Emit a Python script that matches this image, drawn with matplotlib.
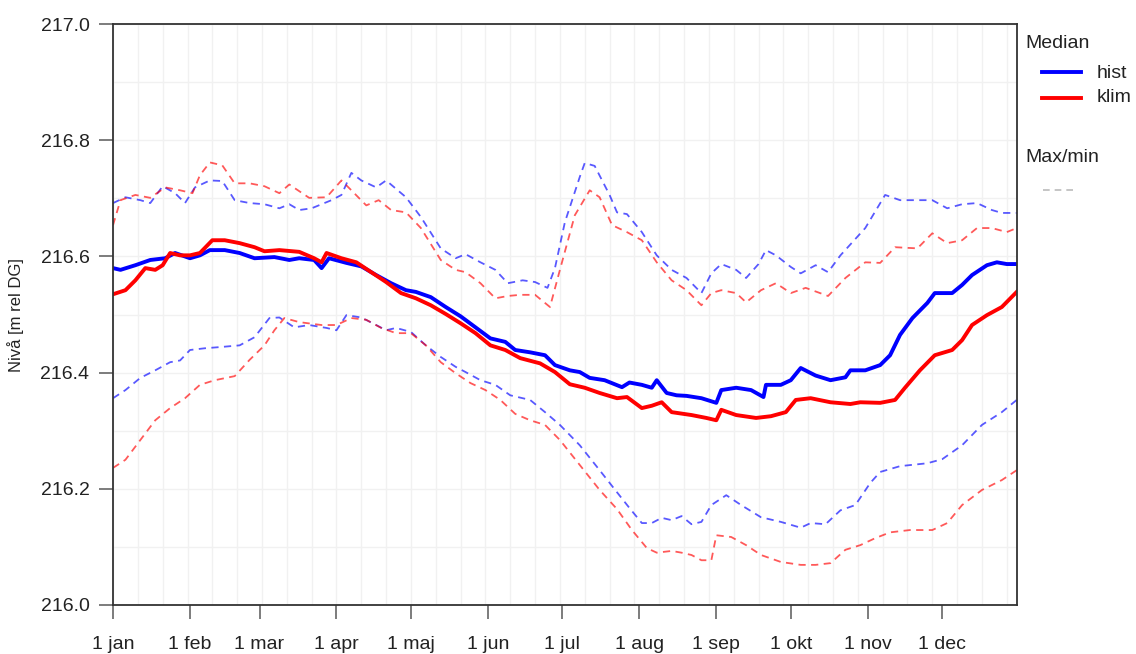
import numpy as np
import matplotlib.pyplot as plt
from matplotlib.lines import Line2D

plt.rcParams['font.family'] = ['Liberation Sans', 'DejaVu Sans']

# day of year (0 = 1 jan) and level [m rel DG]
hist_med_day = [0, 3, 9, 15, 21, 25, 31, 35, 39, 45, 51, 57, 65, 71, 75, 81, 84, 87, 94, 100,
                106, 112, 118, 122, 128, 134, 140, 146, 152, 158, 162, 168, 174, 178, 184, 188,
                192, 198, 205, 208, 213, 217, 219, 223, 227, 231, 237, 243, 245, 251, 257, 262,
                263, 269, 273, 277, 283, 289, 295, 297, 303, 309, 313, 317, 322, 328, 331, 338,
                342, 346, 352, 356, 360, 364]
hist_med = [216.580, 216.577, 216.585, 216.594, 216.597, 216.606, 216.597, 216.602, 216.611,
            216.611, 216.606, 216.597, 216.599, 216.594, 216.597, 216.594, 216.580, 216.597,
            216.589, 216.583, 216.568, 216.554, 216.542, 216.539, 216.530, 216.513, 216.497,
            216.478, 216.459, 216.453, 216.439, 216.435, 216.430, 216.413, 216.404, 216.401,
            216.391, 216.387, 216.375, 216.383, 216.379, 216.374, 216.387, 216.365, 216.361,
            216.360, 216.356, 216.348, 216.370, 216.374, 216.370, 216.358, 216.379, 216.379,
            216.387, 216.408, 216.395, 216.387, 216.392, 216.404, 216.404, 216.413, 216.430,
            216.465, 216.494, 216.520, 216.537, 216.537, 216.551, 216.568, 216.585, 216.590,
            216.587, 216.587]

klim_med_day = [0, 5, 9, 13, 17, 20, 23, 27, 31, 35, 40, 45, 51, 57, 61, 67, 75, 81, 84, 86,
                92, 98, 104, 110, 116, 122, 128, 134, 140, 146, 152, 158, 164, 172, 178, 184,
                190, 196, 203, 207, 213, 217, 221, 225, 233, 239, 243, 245, 251, 259, 265, 271,
                275, 281, 289, 297, 301, 309, 315, 319, 325, 331, 338, 342, 346, 352, 358, 364]
klim_med = [216.535, 216.542, 216.559, 216.580, 216.577, 216.585, 216.606, 216.602, 216.602,
            216.606, 216.628, 216.628, 216.623, 216.616, 216.609, 216.611, 216.608, 216.597,
            216.590, 216.606, 216.597, 216.590, 216.573, 216.556, 216.537, 216.528, 216.516,
            216.501, 216.485, 216.468, 216.447, 216.439, 216.425, 216.416, 216.401, 216.380,
            216.374, 216.365, 216.356, 216.358, 216.339, 216.343, 216.349, 216.332, 216.327,
            216.322, 216.318, 216.336, 216.327, 216.322, 216.325, 216.332, 216.353, 216.356,
            216.349, 216.346, 216.349, 216.348, 216.353, 216.374, 216.404, 216.430, 216.439,
            216.456, 216.482, 216.499, 216.513, 216.539]

hist_max_day = [0, 5, 11, 15, 20, 25, 29, 33, 39, 44, 49, 55, 61, 67, 71, 75, 80, 88, 92, 96,
                100, 106, 110, 118, 124, 132, 138, 142, 148, 154, 159, 165, 170, 175, 178, 182,
                188, 190, 194, 200, 203, 207, 213, 219, 225, 231, 237, 241, 245, 251, 255, 260,
                263, 267, 273, 277, 283, 288, 293, 303, 311, 317, 324, 330, 336, 342, 348, 354,
                358, 364]
hist_max = [216.692, 216.702, 216.697, 216.692, 216.721, 216.709, 216.692, 216.719, 216.731,
            216.730, 216.697, 216.692, 216.690, 216.683, 216.690, 216.680, 216.683, 216.697,
            216.706, 216.744, 216.731, 216.719, 216.731, 216.702, 216.668, 216.614, 216.597,
            216.604, 216.590, 216.577, 216.554, 216.559, 216.556, 216.546, 216.580, 216.659,
            216.737, 216.761, 216.756, 216.706, 216.676, 216.673, 216.642, 216.602, 216.577,
            216.563, 216.537, 216.571, 216.587, 216.577, 216.563, 216.587, 216.611, 216.602,
            216.582, 216.571, 216.585, 216.573, 216.602, 216.649, 216.706, 216.697, 216.697,
            216.697, 216.683, 216.690, 216.692, 216.680, 216.675, 216.675]

klim_max_day = [0, 3, 9, 15, 21, 27, 32, 35, 39, 44, 49, 55, 61, 67, 71, 79, 86, 92, 96, 102,
                107, 112, 118, 124, 132, 138, 142, 148, 154, 159, 164, 170, 176, 180, 186, 192,
                196, 201, 207, 213, 219, 225, 231, 237, 241, 245, 251, 255, 261, 267, 273, 279,
                288, 295, 303, 309, 315, 324, 330, 336, 342, 348, 354, 360, 364]
klim_max = [216.654, 216.697, 216.706, 216.701, 216.719, 216.714, 216.709, 216.740, 216.762,
            216.757, 216.726, 216.726, 216.721, 216.709, 216.724, 216.701, 216.702, 216.731,
            216.714, 216.688, 216.697, 216.680, 216.676, 216.649, 216.594, 216.577, 216.573,
            216.554, 216.528, 216.532, 216.534, 216.534, 216.513, 216.577, 216.671, 216.714,
            216.702, 216.654, 216.642, 216.628, 216.590, 216.559, 216.542, 216.516, 216.537,
            216.542, 216.537, 216.521, 216.542, 216.554, 216.537, 216.546, 216.532, 216.563,
            216.590, 216.589, 216.616, 216.614, 216.640, 216.623, 216.628, 216.649, 216.649,
            216.642, 216.649]

hist_min_day = [0, 5, 11, 17, 23, 27, 31, 37, 43, 51, 57, 63, 67, 73, 79, 86, 90, 94, 100, 106,
                110, 114, 120, 126, 132, 138, 142, 148, 154, 160, 168, 174, 180, 188, 196, 203,
                208, 213, 217, 221, 225, 229, 233, 237, 241, 247, 253, 261, 269, 277, 281, 287,
                293, 299, 305, 309, 317, 328, 334, 342, 350, 358, 364]
hist_min = [216.356, 216.370, 216.391, 216.404, 216.418, 216.421, 216.439, 216.442, 216.444,
            216.447, 216.461, 216.494, 216.495, 216.478, 216.482, 216.477, 216.473, 216.499,
            216.495, 216.482, 216.473, 216.477, 216.470, 216.447, 216.427, 216.410, 216.401,
            216.387, 216.379, 216.361, 216.353, 216.332, 216.310, 216.275, 216.232, 216.194,
            216.167, 216.141, 216.141, 216.150, 216.146, 216.153, 216.139, 216.143, 216.172,
            216.189, 216.172, 216.151, 216.143, 216.133, 216.141, 216.139, 216.163, 216.172,
            216.210, 216.229, 216.239, 216.244, 216.251, 216.275, 216.310, 216.332, 216.353]

klim_min_day = [0, 5, 11, 17, 23, 29, 35, 41, 49, 55, 61, 65, 69, 75, 84, 90, 96, 102, 108,
                114, 120, 126, 132, 138, 144, 150, 156, 162, 168, 174, 180, 188, 196, 203, 209,
                215, 219, 225, 229, 233, 237, 241, 243, 249, 255, 261, 269, 277, 283, 289, 295,
                301, 307, 313, 321, 330, 336, 342, 350, 358, 364]
klim_min = [216.236, 216.250, 216.284, 216.318, 216.339, 216.356, 216.379, 216.387, 216.394,
            216.422, 216.447, 216.473, 216.494, 216.487, 216.482, 216.482, 216.494, 216.491,
            216.477, 216.468, 216.468, 216.447, 216.418, 216.399, 216.382, 216.370, 216.353,
            216.329, 216.318, 216.310, 216.284, 216.241, 216.198, 216.165, 216.129, 216.098,
            216.090, 216.093, 216.090, 216.086, 216.077, 216.077, 216.120, 216.117, 216.103,
            216.086, 216.074, 216.069, 216.069, 216.072, 216.095, 216.103, 216.115, 216.125,
            216.129, 216.129, 216.141, 216.172, 216.198, 216.215, 216.232]

month_names = ["1 jan", "1 feb", "1 mar", "1 apr", "1 maj", "1 jun",
               "1 jul", "1 aug", "1 sep", "1 okt", "1 nov", "1 dec"]
month_starts = np.cumsum([0, 31, 28, 31, 30, 31, 30, 31, 31, 30, 31, 30])

fig = plt.figure(figsize=(11.36, 6.54), dpi=100)
ax = fig.add_axes([0.0995, 0.075, 0.7955, 0.888])

# max/min envelopes, thin dashed and faded
dash = dict(lw=1.3, ls=(0, (4, 3)), alpha=0.65)
ax.plot(hist_max_day, hist_max, color="#0000ff", **dash)
ax.plot(hist_min_day, hist_min, color="#0000ff", **dash)
ax.plot(klim_max_day, klim_max, color="#ff0000", **dash)
ax.plot(klim_min_day, klim_min, color="#ff0000", **dash)

# medians
ax.plot(hist_med_day, hist_med, color="#0000ff", lw=2.8)
ax.plot(klim_med_day, klim_med, color="#ff0000", lw=2.8)

ax.set_xlim(0, 364)
ax.set_ylim(216.0, 217.0)
ax.set_xticks(month_starts)
ax.set_xticklabels(month_names)
ax.set_yticks(np.arange(216.0, 217.01, 0.2))
ax.set_yticklabels(["%.1f" % v for v in np.arange(216.0, 217.01, 0.2)])

# very light grid: every 10 days, every 0.1 m
for d in np.arange(0, 365, 10):
    ax.axvline(d, color="#f1f1f1", lw=1, zorder=0)
for v in np.arange(216.1, 217.0, 0.1):
    ax.axhline(v, color="#f1f1f1", lw=1, zorder=0)

for s in ax.spines.values():
    s.set_color("#333333")
    s.set_linewidth(1.3)
ax.tick_params(direction="out", length=10, width=1.2, color="#666666",
               labelsize=14, labelcolor="#222222")
ax.tick_params(axis="x", pad=12)
ax.tick_params(axis="y", pad=7)
ax.set_ylabel("Nivå [m rel DG]", fontsize=12, color="#222222")
ax.yaxis.set_label_coords(-0.098, 0.5)

# legend on the right, drawn by hand
fig.text(1025 / 1136, 1 - 43 / 654, "Median", fontsize=14, va="center", color="#222222")
fig.add_artist(Line2D([1042 / 1136, 1081 / 1136], [1 - 72 / 654] * 2, color="#0000ff", lw=2.8))
fig.text(1097 / 1136, 1 - 73 / 654, "hist", fontsize=14, va="center", color="#222222")
fig.add_artist(Line2D([1042 / 1136, 1081 / 1136], [1 - 98 / 654] * 2, color="#ff0000", lw=2.8))
fig.text(1097 / 1136, 1 - 98 / 654, "klim", fontsize=14, va="center", color="#222222")
fig.text(1025 / 1136, 1 - 157 / 654, "Max/min", fontsize=14, va="center", color="#222222")
fig.add_artist(Line2D([1043 / 1136, 1078 / 1136], [1 - 190 / 654] * 2, color="#bbbbbb",
                      lw=1.2, ls=(0, (4, 3))))

fig.savefig("out.png", dpi=100)
